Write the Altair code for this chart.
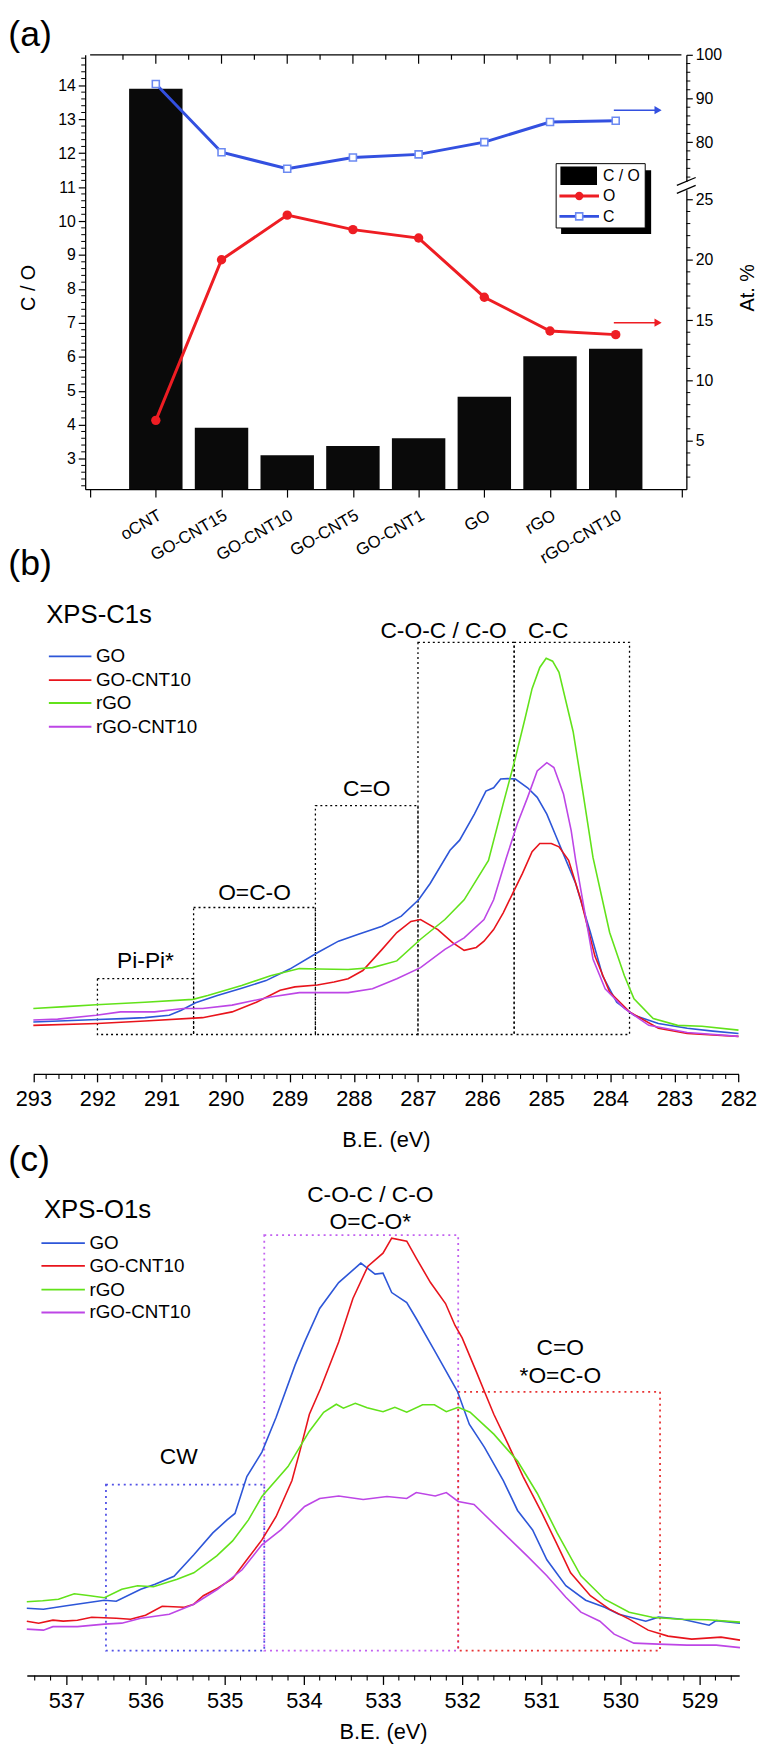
import json
import altair as alt
import pandas as pd

FONT = "Liberation Sans"

# ---------------- panel (a) data ----------------
samples = ["oCNT", "GO-CNT15", "GO-CNT10", "GO-CNT5", "GO-CNT1", "GO", "rGO", "rGO-CNT10"]
co_ratio = [13.9, 3.91, 3.1, 3.37, 3.6, 4.82, 6.02, 6.24]
o_atomic = [6.7, 20.0, 23.7, 22.5, 21.8, 16.9, 14.1, 13.8]
c_atomic = [93.3, 77.7, 73.9, 76.5, 77.2, 80.0, 84.6, 84.9]
co_ticks = [3, 4, 5, 6, 7, 8, 9, 10, 11, 12, 13, 14]
c_ticks = [80, 90, 100]
o_ticks = [5, 10, 15, 20, 25]

# ---------------- panel (b) data : XPS C1s ----------------
series_names = ["GO", "GO-CNT10", "rGO", "rGO-CNT10"]
series_colors = ["#2d56d8", "#e8141c", "#62e21a", "#bd46e6"]

c1s_go_ev = [293.0, 292.6, 292.0, 291.6, 291.26, 290.88, 290.7, 290.47, 290.13, 289.75, 289.37, 289.0,
             288.57, 288.24, 287.94, 287.56, 287.26, 286.99, 286.81, 286.5, 286.35, 286.12, 285.94, 285.82,
             285.71, 285.6, 285.48, 285.29, 285.14, 284.99, 284.84, 284.69, 284.54, 284.31, 284.12, 283.9,
             283.63, 283.25, 282.8, 282.4, 282.0]
c1s_go_val = [10.8, 11.0, 11.3, 11.5, 11.7, 12.2, 13.2, 14.8, 16.3, 17.8, 19.4, 21.8, 25.2, 27.6, 29.0,
              30.7, 32.8, 36.2, 39.6, 46.5, 48.6, 54.0, 58.8, 59.5, 61.3, 61.4, 61.3, 59.5, 57.5, 54.0,
              49.2, 44.4, 39.6, 29.4, 20.4, 14.9, 12.2, 10.5, 9.5, 8.9, 8.4]
c1s_gocnt_ev = [293.0, 292.0, 291.26, 290.36, 289.9, 289.52, 289.15, 288.92, 288.57, 288.31, 288.09, 287.86,
                287.56, 287.33, 287.11, 286.96, 286.69, 286.46, 286.28, 286.09, 285.97, 285.82, 285.67,
                285.52, 285.37, 285.22, 285.1, 284.92, 284.8, 284.65, 284.46, 284.24, 284.01, 283.7,
                283.25, 282.8, 282.0]
c1s_gocnt_val = [10.1, 10.5, 11.0, 11.7, 12.9, 14.9, 17.4, 18.1, 18.5, 19.1, 19.8, 21.5, 25.9, 29.4, 31.7,
                 32.1, 30.0, 27.3, 25.7, 26.3, 27.6, 30.0, 33.5, 37.6, 41.7, 46.2, 47.9, 47.9, 47.2, 44.4,
                 36.2, 24.5, 17.0, 12.9, 9.5, 8.4, 7.8]
c1s_rgo_ev = [293.0, 292.5, 292.02, 291.26, 290.51, 290.28, 289.75, 289.3, 288.85, 288.54, 288.09, 287.71,
              287.33, 286.96, 286.58, 286.28, 285.9, 285.67, 285.48, 285.33, 285.22, 285.1, 285.0, 284.9,
              284.8, 284.58, 284.43, 284.27, 284.01, 283.78, 283.63, 283.33, 282.95, 282.57, 282.0]
c1s_rgo_val = [13.6, 14.0, 14.4, 14.9, 15.5, 16.3, 18.4, 20.4, 21.9, 21.8, 21.7, 22.1, 23.5, 28.0, 32.1,
               36.2, 44.4, 56.2, 65.7, 73.9, 80.1, 84.5, 86.4, 85.8, 83.5, 71.2, 58.8, 45.0, 29.4, 20.4,
               15.6, 11.5, 10.1, 9.9, 9.1]
c1s_rgocnt_ev = [293.0, 292.62, 292.02, 291.64, 291.11, 290.66, 290.36, 289.9, 289.3, 288.85, 288.57, 288.09,
                 287.71, 287.33, 286.96, 286.58, 286.28, 285.97, 285.82, 285.62, 285.45, 285.29, 285.14,
                 284.99, 284.88, 284.73, 284.61, 284.54, 284.46, 284.27, 284.08, 283.78, 283.4, 282.8, 282.0]
c1s_rgocnt_val = [11.2, 11.4, 12.2, 12.9, 12.9, 13.6, 13.6, 14.3, 16.0, 16.9, 16.9, 16.9, 17.7, 19.8, 22.1,
                  25.9, 28.3, 32.1, 36.2, 45.0, 52.0, 57.5, 63.0, 64.7, 63.7, 58.2, 50.6, 44.4, 38.3, 23.9,
                  17.7, 13.6, 10.1, 8.6, 7.8]

c1s_box_labels = ["Pi-Pi*", "O=C-O", "C=O", "C-O-C / C-O", "C-C"]
c1s_box_lo = [290.5, 288.6, 287.0, 285.5, 283.7]
c1s_box_hi = [292.0, 290.5, 288.6, 287.0, 285.5]
c1s_box_top = [19.8, 34.6, 55.8, 89.7, 89.7]
c1s_box_bottom = [8.2, 8.2, 8.2, 8.2, 8.2]
c1s_label_ev = [291.25, 289.55, 287.8, 286.6, 284.97]
c1s_label_val = [23.5, 37.7, 59.3, 92.1, 92.1]
c1s_ticks = list(range(282, 294))

# ---------------- panel (c) data : XPS O1s ----------------
o1s_go_ev = [537.5, 537.29, 537.0, 536.52, 536.37, 536.06, 535.88, 535.64, 535.39, 535.15, 534.97, 534.87,
             534.72, 534.53, 534.35, 534.11, 533.99, 533.8, 533.56, 533.28, 533.1, 533.0, 532.89, 532.7,
             532.58, 532.34, 532.06, 531.91, 531.72, 531.48, 531.3, 531.11, 530.93, 530.69, 530.44, 530.2,
             530.02, 529.68, 529.52, 529.22, 528.88, 528.79, 528.49]
o1s_go_val = [13.5, 13.3, 14.0, 15.1, 14.9, 17.3, 18.3, 19.9, 24.2, 28.6, 31.2, 32.5, 39.9, 44.8, 51.8,
              62.3, 66.9, 73.6, 78.8, 82.7, 80.5, 80.7, 76.8, 74.8, 71.6, 64.9, 57.0, 50.4, 45.8, 39.1,
              33.1, 29.2, 23.2, 18.0, 15.1, 13.7, 12.3, 10.9, 11.7, 11.3, 10.1, 11.0, 10.5]
o1s_gocnt_ev = [537.5, 537.35, 537.17, 537.04, 536.86, 536.68, 536.37, 536.19, 536.0, 535.79, 535.51, 535.39,
                535.27, 535.09, 534.9, 534.72, 534.53, 534.35, 534.15, 534.05, 533.93, 533.79, 533.56,
                533.38, 533.19, 533.0, 532.89, 532.7, 532.58, 532.4, 532.21, 532.09, 532.0, 531.82, 531.72,
                531.6, 531.42, 531.23, 530.99, 530.81, 530.63, 530.38, 530.14, 529.89, 529.65, 529.4,
                529.1, 528.73, 528.49]
o1s_gocnt_val = [10.9, 10.5, 11.1, 10.9, 11.1, 11.7, 11.5, 11.3, 12.1, 13.9, 13.7, 14.3, 16.0, 17.5, 19.4,
                 23.2, 27.2, 31.9, 39.1, 45.0, 52.4, 57.5, 66.9, 75.6, 82.1, 84.7, 87.7, 87.1, 83.7, 78.8,
                 74.6, 70.2, 67.7, 60.9, 57.0, 52.4, 46.4, 39.9, 32.5, 26.6, 20.6, 16.0, 13.3, 11.3, 9.1,
                 7.9, 7.3, 7.7, 7.1]
o1s_rgo_ev = [537.5, 537.3, 537.1, 536.9, 536.7, 536.52, 536.3, 536.1, 535.9, 535.6, 535.39, 535.1, 534.9,
              534.7, 534.53, 534.2, 533.93, 533.75, 533.59, 533.5, 533.35, 533.2, 533.0, 532.85, 532.7,
              532.5, 532.35, 532.2, 532.05, 531.9, 531.6, 531.3, 531.05, 530.8, 530.5, 530.2, 529.89,
              529.6, 529.25, 528.9, 528.49]
o1s_rgo_val = [14.8, 15.0, 15.3, 16.4, 16.0, 15.6, 17.3, 18.0, 17.8, 19.3, 20.6, 24.0, 27.0, 31.2, 35.9,
               41.9, 49.0, 52.8, 54.4, 53.6, 54.6, 53.7, 52.9, 53.8, 52.8, 54.3, 54.3, 52.9, 53.8, 52.8,
               48.4, 43.0, 36.5, 28.6, 20.0, 15.3, 12.7, 11.7, 11.3, 11.2, 10.7]
o1s_rgocnt_ev = [537.5, 537.29, 537.17, 536.86, 536.52, 536.3, 536.06, 535.7, 535.39, 535.09, 534.78, 534.53,
                 534.29, 533.99, 533.8, 533.56, 533.25, 532.95, 532.7, 532.58, 532.34, 532.2, 532.05,
                 531.85, 531.48, 531.18, 530.93, 530.69, 530.5, 530.26, 530.08, 529.83, 529.52, 529.16,
                 528.79, 528.49]
o1s_rgocnt_val = [9.3, 9.1, 9.8, 9.8, 10.3, 10.5, 11.5, 12.3, 14.3, 17.3, 21.2, 26.2, 29.2, 33.9, 35.5,
                  36.0, 35.3, 35.9, 35.5, 36.7, 36.0, 36.7, 34.9, 34.3, 28.6, 24.0, 20.0, 15.7, 12.7, 10.9,
                  8.3, 6.5, 6.3, 6.1, 6.1, 5.6]

o1s_box_kind = ["CW", "C-O-C", "C=O"]
o1s_box_lo = [534.5, 532.05, 529.5]
o1s_box_hi = [536.5, 534.5, 532.05]
o1s_box_top = [38.3, 88.3, 56.9]
o1s_box_bottom = [5.0, 5.0, 5.0]
o1s_box_colors = ["#5252e6", "#c262f0", "#e83434"]
o1s_labels = ["C-O-C / C-O", "O=C-O*", "C=O", "*O=C-O", "CW"]
o1s_label_ev = [533.16, 533.16, 530.76, 530.76, 535.58]
o1s_label_val = [96.4, 90.9, 65.6, 60.0, 43.8]
o1s_ticks = list(range(529, 538))

# ---------------- layout constants ----------------
W = 720
HA, HB, HC = 439, 491, 508
SPACING = 100
AL, AR = 59.0, 666.6          # panel (a) frame inside the plot area
CBLUE, ORED = "#3350e0", "#ee1d23"

one = pd.DataFrame({"k": [0]})


def vtext(txt, x, y, size, align="left", baseline="middle", color="black"):
    return alt.Chart(one).mark_text(text=txt, fontSize=size, align=align, baseline=baseline,
                                    color=color, font=FONT).encode(x=alt.value(x), y=alt.value(y))


def vrule(x1, x2, y1, y2, color="black", width=1.0):
    return alt.Chart(one).mark_rule(color=color, strokeWidth=width).encode(
        x=alt.value(x1), x2=alt.value(x2), y=alt.value(y1), y2=alt.value(y2))


def vrect(x1, x2, y1, y2, **kw):
    return alt.Chart(one).mark_rect(**kw).encode(
        x=alt.value(x1), x2=alt.value(x2), y=alt.value(y1), y2=alt.value(y2))


# ======================= panel (a) =======================
dfa = pd.DataFrame({"pos": list(range(1, 9)), "sample": samples, "co": co_ratio,
                    "o": o_atomic, "c": c_atomic})

xa = alt.Scale(domain=[0, 9], range=[AL, AR], nice=False, zero=False)
label_expr = ("datum.value >= 1 && datum.value <= 8 ? " + json.dumps(samples)
              + "[datum.value - 1] : ''")
ax_xa = alt.Axis(orient="bottom", values=list(range(10)), labelExpr=label_expr, labelAngle=330,
                 labelAlign="right", labelBaseline="top", labelFontSize=17, labelPadding=10,
                 labelOverlap=False, labelFlush=False, tickSize=8, tickWidth=1.2, domainWidth=1.3,
                 title=None, grid=False)

yco = alt.Scale(domain=[2.1, 14.9], nice=False, zero=False)
ax_co = alt.Axis(orient="left", offset=-AL, values=co_ticks, tickSize=7, tickWidth=1.2,
                 domainWidth=1.3, labelFontSize=16, labelPadding=3, title="C / O", titleFontSize=20,
                 titleFontWeight="normal", titleAngle=270, titleX=-57.7, titleY=235,
                 titleAlign="center", titleBaseline="middle", grid=False)
yc = alt.Scale(domain=[71, 100], range=[128, 0], nice=False, zero=False)
ax_c = alt.Axis(orient="right", offset=-(W - AR), values=c_ticks, tickSize=6, tickWidth=1.2,
                domainWidth=1.3, labelFontSize=16, labelPadding=3, title=None, grid=False)
yo = alt.Scale(domain=[1, 25.8], range=[HA, 136.4], nice=False, zero=False)
ax_o = alt.Axis(orient="right", offset=-(W - AR), values=o_ticks, tickSize=6, tickWidth=1.2,
                domainWidth=1.3, labelFontSize=16, labelPadding=3, title="At. %", titleFontSize=20,
                titleFontWeight="normal", titleAngle=270, titleX=62, titleY=235,
                titleAlign="center", titleBaseline="middle", grid=False)

X_A = alt.X("pos:Q", scale=xa, axis=ax_xa)

bars = alt.Chart(dfa).mark_bar(color="#0a0a0a", size=54).encode(
    x=X_A, y=alt.Y("co:Q", scale=yco, axis=ax_co), y2=alt.datum(2.1))
co_minor = [v / 10 for v in range(22, 149, 2) if v % 10 != 0]
minL = alt.Chart(pd.DataFrame({"v": co_minor})).mark_rule(color="black", strokeWidth=1).encode(
    y=alt.Y("v:Q", scale=yco, axis=ax_co), x=alt.value(AL - 4), x2=alt.value(AL))
top_line = alt.Chart(pd.DataFrame({"a": [0], "b": [9]})).mark_rule(color="black", strokeWidth=1.3).encode(
    x=alt.X("a:Q", scale=xa, axis=ax_xa), x2="b:Q", y=alt.value(0))
tmaj = alt.Chart(pd.DataFrame({"pos": list(range(1, 9))})).mark_rule(color="black", strokeWidth=1.2).encode(
    x=X_A, y=alt.value(0), y2=alt.value(9))
tmin = alt.Chart(pd.DataFrame({"pos": [i + 0.5 for i in range(9)]})).mark_rule(color="black", strokeWidth=1.2).encode(
    x=X_A, y=alt.value(0), y2=alt.value(5))
gL = alt.layer(bars, minL, top_line, tmaj, tmin)

Y_C = alt.Y("c:Q", scale=yc, axis=ax_c)
c_line = alt.Chart(dfa).mark_line(color=CBLUE, strokeWidth=3).encode(x=X_A, y=Y_C)
c_pts = alt.Chart(dfa).mark_square(size=50, fill="white", stroke="#6c8af2", strokeWidth=1.6, opacity=1).encode(x=X_A, y=Y_C)
c_minor = [72, 74, 76, 78, 82, 84, 86, 88, 92, 94, 96, 98]
c_min = alt.Chart(pd.DataFrame({"c": c_minor})).mark_rule(color="black", strokeWidth=1).encode(
    y=Y_C, x=alt.value(AR), x2=alt.value(AR + 4))
gC = alt.layer(c_line, c_pts, c_min)

Y_O = alt.Y("o:Q", scale=yo, axis=ax_o)
o_line = alt.Chart(dfa).mark_line(color=ORED, strokeWidth=3).encode(x=X_A, y=Y_O)
o_pts = alt.Chart(dfa).mark_circle(size=90, color=ORED, opacity=1).encode(x=X_A, y=Y_O)
o_minor = [v for v in range(2, 26) if v % 5 != 0]
o_min = alt.Chart(pd.DataFrame({"o": o_minor})).mark_rule(color="black", strokeWidth=1).encode(
    y=Y_O, x=alt.value(AR), x2=alt.value(AR + 4))
gO = alt.layer(o_line, o_pts, o_min)

deco_a = [
    vtext("(a)", -18.7, -37, 36, baseline="top"),
    # legend box with shadow
    vrect(540, 631, 116.7, 181, color="black"),
    vrect(535, 625, 110, 175, fill="white", stroke="black", strokeWidth=1),
    vrect(539.3, 576.3, 113, 131.7, color="black"),
    vtext("C / O", 582.3, 122.5, 16),
    vrule(538.3, 578.3, 142.7, 142.7, ORED, 3),
    alt.Chart(one).mark_circle(size=70, color=ORED, opacity=1).encode(x=alt.value(558.3), y=alt.value(142.7)),
    vtext("O", 582.3, 143, 16),
    vrule(538.3, 578.3, 163.3, 163.3, CBLUE, 3),
    alt.Chart(one).mark_square(size=50, fill="white", stroke="#6c8af2", strokeWidth=1.6, opacity=1).encode(
        x=alt.value(558.3), y=alt.value(163.3)),
    vtext("C", 582.3, 163.5, 16),
    # arrows pointing to the right axis
    vrule(593.3, 636, 56, 56, CBLUE, 1.5),
    alt.Chart(one).mark_point(shape="triangle-right", filled=True, size=70, color=CBLUE, opacity=1).encode(
        x=alt.value(638), y=alt.value(56)),
    vrule(593.3, 636, 270.7, 270.7, ORED, 1.5),
    alt.Chart(one).mark_point(shape="triangle-right", filled=True, size=70, color=ORED, opacity=1).encode(
        x=alt.value(638), y=alt.value(270.7)),
    # axis break marks
    vrule(657, 676, 132, 124, "black", 1.3),
    vrule(657, 676, 140, 132, "black", 1.3),
]
gD = alt.layer(*deco_a)

panel_a = alt.layer(gL, gC, gO, gD).resolve_scale(y="independent").properties(width=W, height=HA)


# ======================= spectra helpers =======================
def long_frame(evs, vals):
    rows = []
    for name, ev, val in zip(series_names, evs, vals):
        assert len(ev) == len(val), name
        for e, v in zip(ev, val):
            rows.append({"series": name, "ev": e, "val": v})
    return pd.DataFrame(rows)


color_enc = alt.Color("series:N", scale=alt.Scale(domain=series_names, range=series_colors), legend=None)


def legend_layers(x1, x2, xt, ys, size):
    out = []
    for name, col, y in zip(series_names, series_colors, ys):
        out.append(vrule(x1, x2, y, y, col, 2))
        out.append(vtext(name, xt, y, size))
    return out


# ======================= panel (b) =======================
xb = alt.Scale(domain=[282, 293], reverse=True, range=[6.6, 719.3], nice=False, zero=False)
yb = alt.Scale(domain=[0, 101], nice=False, zero=False)
ax_xb = alt.Axis(orient="bottom", values=c1s_ticks, format="d", tickSize=8, tickWidth=1.3,
                 domainWidth=1.3, labelFontSize=22, labelPadding=7, labelFlush=False,
                 labelOverlap=False, title="B.E. (eV)", titleFontSize=22, titleFontWeight="normal",
                 titleY=66, titleBaseline="middle", grid=False)

df_b = long_frame([c1s_go_ev, c1s_gocnt_ev, c1s_rgo_ev, c1s_rgocnt_ev],
                  [c1s_go_val, c1s_gocnt_val, c1s_rgo_val, c1s_rgocnt_val])
lines_b = alt.Chart(df_b).mark_line(strokeWidth=1.6).encode(
    x=alt.X("ev:Q", scale=xb, axis=ax_xb), y=alt.Y("val:Q", scale=yb, axis=None), color=color_enc)

df_bbox = pd.DataFrame({"lo": c1s_box_lo, "hi": c1s_box_hi, "top": c1s_box_top, "bottom": c1s_box_bottom})
boxes_b = alt.Chart(df_bbox).mark_rect(fillOpacity=0, stroke="black", strokeWidth=1.3, strokeDash=[2, 3]).encode(
    x=alt.X("lo:Q", scale=xb, axis=ax_xb), x2="hi:Q",
    y=alt.Y("bottom:Q", scale=yb, axis=None), y2="top:Q")
df_blab = pd.DataFrame({"label": c1s_box_labels, "ev": c1s_label_ev, "val": c1s_label_val})
labels_b = alt.Chart(df_blab).mark_text(fontSize=23, font=FONT, color="black", baseline="middle").encode(
    x=alt.X("ev:Q", scale=xb, axis=ax_xb), y=alt.Y("val:Q", scale=yb, axis=None), text="label:N")
b_minor = [v / 10 for v in range(2822, 2930, 2) if v % 10 != 0]
minor_b = alt.Chart(pd.DataFrame({"ev": b_minor})).mark_rule(color="black", strokeWidth=1.1).encode(
    x=alt.X("ev:Q", scale=xb, axis=ax_xb), y=alt.value(HB), y2=alt.value(HB + 5))

deco_b = [vtext("(b)", -18.7, -24, 36), vtext("XPS-C1s", 19.6, 27, 26)] + \
    legend_layers(22.3, 65.3, 69.9, [69, 93, 116, 140], 19)

panel_b = alt.layer(boxes_b, lines_b, labels_b, minor_b, *deco_b).properties(width=W, height=HB)

# ======================= panel (c) =======================
xcs = alt.Scale(domain=[528.5, 537.5], reverse=True, range=[0, W], nice=False, zero=False)
ycs = alt.Scale(domain=[0, 100.8], nice=False, zero=False)
ax_xc = alt.Axis(orient="bottom", values=o1s_ticks, format="d", tickSize=9, tickWidth=1.3,
                 domainWidth=1.3, labelFontSize=22, labelPadding=6, labelFlush=False,
                 labelOverlap=False, title="B.E. (eV)", titleFontSize=22, titleFontWeight="normal",
                 titleY=57, titleBaseline="middle", grid=False)

df_c = long_frame([o1s_go_ev, o1s_gocnt_ev, o1s_rgo_ev, o1s_rgocnt_ev],
                  [o1s_go_val, o1s_gocnt_val, o1s_rgo_val, o1s_rgocnt_val])
lines_c = alt.Chart(df_c).mark_line(strokeWidth=1.6).encode(
    x=alt.X("ev:Q", scale=xcs, axis=ax_xc), y=alt.Y("val:Q", scale=ycs, axis=None), color=color_enc)

df_cbox = pd.DataFrame({"kind": o1s_box_kind, "lo": o1s_box_lo, "hi": o1s_box_hi,
                        "top": o1s_box_top, "bottom": o1s_box_bottom})
boxes_c = alt.Chart(df_cbox).mark_rect(fillOpacity=0, strokeWidth=1.8, strokeDash=[2, 4]).encode(
    x=alt.X("lo:Q", scale=xcs, axis=ax_xc), x2="hi:Q",
    y=alt.Y("bottom:Q", scale=ycs, axis=None), y2="top:Q",
    stroke=alt.Stroke("kind:N", scale=alt.Scale(domain=o1s_box_kind, range=o1s_box_colors), legend=None))
df_clab = pd.DataFrame({"label": o1s_labels, "ev": o1s_label_ev, "val": o1s_label_val})
labels_c = alt.Chart(df_clab).mark_text(fontSize=23, font=FONT, color="black", baseline="middle").encode(
    x=alt.X("ev:Q", scale=xcs, axis=ax_xc), y=alt.Y("val:Q", scale=ycs, axis=None), text="label:N")
c_minor_ticks = [v / 10 for v in range(5286, 5375, 2) if v % 10 != 0]
minor_c = alt.Chart(pd.DataFrame({"ev": c_minor_ticks})).mark_rule(color="black", strokeWidth=1.1).encode(
    x=alt.X("ev:Q", scale=xcs, axis=ax_xc), y=alt.value(HC), y2=alt.value(HC + 5))

deco_c = [vtext("(c)", -18.7, -13, 36), vtext("XPS-O1s", 17.3, 38, 26)] + \
    legend_layers(14.8, 58.7, 63.3, [71, 94, 118, 141], 19)

panel_c = alt.layer(boxes_c, lines_c, labels_c, minor_c, *deco_c).properties(width=W, height=HC)

chart = alt.vconcat(panel_a, panel_b, panel_c, spacing=SPACING, bounds="flush").properties(padding=0)
chart = chart.configure(font=FONT).configure_view(strokeWidth=0).configure_axis(
    grid=False, domainColor="black", tickColor="black", labelColor="black", titleColor="black",
    labelFont=FONT, titleFont=FONT)

chart.save("out.html", embed_options={"renderer": "svg", "actions": False})
